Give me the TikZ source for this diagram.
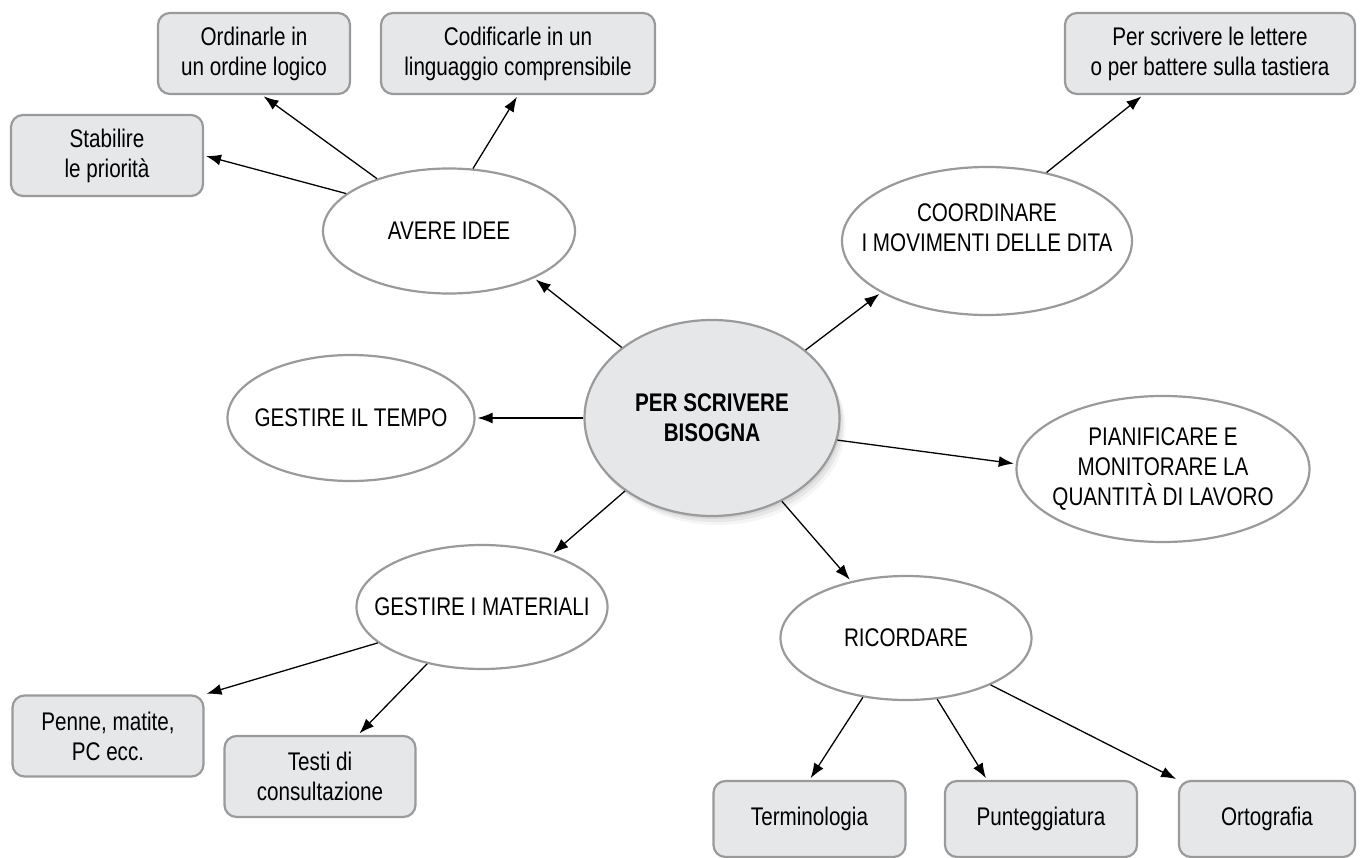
\documentclass[tikz,border=0pt]{standalone}
\usepackage{fontspec}
\setmainfont[FakeStretch=0.81]{Liberation Sans}
\usepackage{xcolor}
\usepackage{tikz}
\usetikzlibrary{arrows.meta}
\usetikzlibrary{shapes.geometric}
\usetikzlibrary{shadows}
\definecolor{boxfill}{HTML}{E6E7E9}
\definecolor{boxline}{HTML}{9A9A9A}
\def\boxh{81pt}
\def\boxr{12pt}
\tikzset{
	idea/.style={ellipse, draw=boxline, line width=2.2pt, fill=white,
		inner xsep=-30pt, inner ysep=0pt, align=center},
	task/.style={rectangle, rounded corners=\boxr, draw=boxline, line width=2.2pt,
		fill=boxfill, minimum height=\boxh, align=center},
	link/.style={-{Latex[length=15pt,width=11pt]}, line width=1.3pt, shorten >=2pt},
}

\begin{document}
\begin{tikzpicture}[x=1pt, y=-1pt, font=\fontsize{25.5}{30}\selectfont]
	\useasboundingbox (0,0) rectangle (1361,858);
	% centre
	\node[idea, fill=boxfill, font=\fontsize{25.5}{30}\selectfont\bfseries,
		minimum width=255pt, minimum height=196pt,
		drop shadow={shadow xshift=2pt, shadow yshift=-3pt, opacity=0.15},
		drop shadow={shadow xshift=4pt, shadow yshift=-6pt, opacity=0.12},
		drop shadow={shadow xshift=6pt, shadow yshift=-9pt, opacity=0.08}]
		(bis) at (712,418) {PER SCRIVERE\\BISOGNA};
	% ellipses
	\node[idea, minimum width=252pt, minimum height=125pt] (avere) at (449,231) {AVERE IDEE};
	\node[idea, minimum width=290pt, minimum height=148pt, text depth=26pt] (coord) at (987,241)
		{COORDINARE\\I MOVIMENTI DELLE DITA};
	\node[idea, minimum width=247pt, minimum height=126pt] (tempo) at (351,418) {GESTIRE IL TEMPO};
	\node[idea, minimum width=293pt, minimum height=146pt] (pian) at (1163,469)
		{PIANIFICARE E\\MONITORARE LA\\QUANTITÀ DI LAVORO};
	\node[idea, minimum width=251pt, minimum height=124pt] (mat) at (482,607) {GESTIRE I MATERIALI};
	\node[idea, minimum width=251pt, minimum height=124pt] (ric) at (906,638) {RICORDARE};
	% boxes
	\node[task, minimum width=192pt] (ord) at (254,53.5) {Ordinarle in\\un ordine logico};
	\node[task, minimum width=274pt] (cod) at (518,53.5) {Codificarle in un\\linguaggio comprensibile};
	\node[task, minimum width=290pt] (lett) at (1210,53.5) {Per scrivere le lettere\\o per battere sulla tastiera};
	\node[task, minimum width=192pt] (stab) at (107,155.5) {Stabilire\\le priorità};
	\node[task, minimum width=191pt] (pen) at (108,736) {Penne, matite,\\PC ecc.};
	\node[task, minimum width=191pt] (testi) at (320,776.5) {Testi di\\consultazione};
	\node[task, minimum width=192pt, minimum height=76pt] (term) at (809.5,819) {Terminologia};
	\node[task, minimum width=192pt, minimum height=76pt] (punt) at (1041,819) {Punteggiatura};
	\node[task, minimum width=176pt, minimum height=76pt] (orto) at (1267,819) {Ortografia};
	% links
	\draw[link] (bis.142) -- (avere.-29);
	\draw[link] (bis.36) -- (coord.-154);
	\draw[link] (bis.west) -- (tempo.east);
	\draw[link] (bis.-10) -- (pian.178);
	\draw[link] (bis.220) -- (mat.37);
	\draw[link] (bis.-50) -- (ric.134);
	\draw[link] (avere.160) -- (stab.east);
	\draw[link] (avere.144) -- ([xshift=8pt]ord.south);
	\draw[link] (avere.69) -- (cod.south);
	\draw[link] (coord.49) -- ([xshift=-67pt]lett.south);
	\draw[link] (mat.-161) -- (pen.north east);
	\draw[link] (mat.226) -- ([xshift=38pt]testi.north);
	\draw[link] (ric.234) -- (term.north);
	\draw[link] (ric.-63) -- ([xshift=-54pt]punt.north);
	\draw[link] (ric.-29) -- (orto.north west);
\end{tikzpicture}
\end{document}
